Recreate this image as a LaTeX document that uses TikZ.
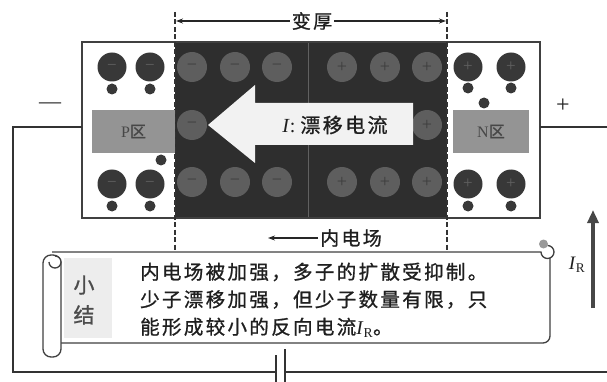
\documentclass[tikz,border=0pt]{standalone}
\usepackage{fontspec}
\setmainfont{Liberation Serif}
\newfontfamily\cjk[LetterSpace=12, FakeBold=1]{Noto Sans CJK SC}
\usetikzlibrary{arrows.meta,positioning}

\begin{document}
\begin{tikzpicture}[x=1pt, y=-1pt,
   wire/.style={draw=black!80, line width=2.2pt},
   bound/.style={draw=black!80, line width=1.4pt, dash pattern=on 5pt off 2.5pt},
   thinarrow/.style={draw=black!85, line width=1.1pt, -{Stealth[length=7pt,width=5pt]}},
   carrier/.style={circle, fill=black!78, minimum size=29pt, inner sep=0pt,
                   text=black!62, font=\fontsize{17}{17}\selectfont},
   dot/.style={circle, fill=black!78, minimum size=11pt, inner sep=0pt},
   ion/.style={circle, fill=black!63, minimum size=30pt, inner sep=0pt,
               text=black!76, font=\fontsize{18}{18}\selectfont},
   region/.style={fill=black!42, minimum width=#1, minimum height=43pt, inner sep=0pt,
                  text=black!72, font=\fontsize{16}{16}\selectfont},
   scroll/.style={draw=black!75, line width=1.3pt, fill=white},
   txt/.style={text=black!88, inner sep=2pt}]

\clip (0,0) rectangle (607,382);

% junction: depletion layer and its boundaries
\fill[black!82] (175,42) rectangle (447,218);
\draw[black!62, line width=0.8pt] (308,42) -- (308,218);
\draw[black!75, line width=1.4pt] (82,42) rectangle (540,218);
\draw[bound] (175,12) -- (175,252);
\draw[bound] (447,12) -- (447,252);
\coordinate (dl) at (176,21);
\coordinate (dr) at (446,21);

\node[txt, font=\cjk\fontsize{19}{19}\selectfont] (thick) at (312,21) {变厚};
\draw[thinarrow] (thick.west) -- (thick.west -| dl);
\draw[thinarrow] (thick.east) -- (thick.east -| dr);

% fixed ions
\foreach \x in {192,235,277} {
   \node[ion] (nt\x) at (\x,67) {−};
   \node[ion] (nb\x) at (\x,182) {−};
}
\foreach \x in {342,385,427} {
   \node[ion] (pt\x) at (\x,67) {+};
   \node[ion] (pb\x) at (\x,182) {+};
}
\node[ion] (nm) at (192,125) {−};
\node[ion] (pm) at (427,125) {+};

% drift current
\fill[black!5] (208,125) -- (255,85) -- (255,103) -- (413,103) -- (413,145)
   -- (255,145) -- (255,163) -- cycle;
\node[txt, font=\fontsize{20}{20}\selectfont] (drift) at (335,125) {\textit{I}: {\cjk 漂移电流}};

% P side
\node[region=83pt] (preg) at (133.5,131.5) {P{\cjk 区}};
\foreach \x in {112,150} {
   \node[carrier] (pct\x) at (\x,67) {−};
   \node[dot] (pdt\x) at (\x,89) {};
   \node[carrier] (pcb\x) at (\x,184) {−};
   \node[dot] (pdb\x) at (\x,206) {};
}
\node[dot] (pd) at (161,160) {};

% N side
\node[region=76pt] (nreg) at (491,131.5) {N{\cjk 区}};
\foreach \x in {468,511} {
   \node[carrier] (nct\x) at (\x,67) {+};
   \node[dot] (ndt\x) at (\x,88) {};
   \node[carrier] (ncb\x) at (\x,184) {+};
   \node[dot] (ndb\x) at (\x,206) {};
}
\node[dot] (nd) at (484,103) {};

% inner field
\node[txt, font=\cjk\fontsize{19}{19}\selectfont] (field) at (351,238) {内电场};
\draw[thinarrow] (field.west) -- +(-50,0);

% external circuit
\node[txt, font=\fontsize{22}{22}\selectfont] (minus) at (50,106) {—};
\node[txt, font=\fontsize{24}{24}\selectfont] (plus) at (563,106) {+};
\coordinate (pc) at (82,127);
\coordinate (nc) at (540,127);
\coordinate (lw) at (13,127);
\coordinate (rw) at (616,127);
\coordinate (bn) at (276,372);
\coordinate (bp) at (285,372);
\draw[wire] (pc) -- (lw) -- (lw |- bn) -- (bn);
\draw[wire] (nc) -- (rw) -- (rw |- bp) -- (bp);
\draw[wire] (276,355) -- (276,390);
\draw[wire] (285,349) -- (285,390);

\coordinate (ir0) at (593,308);
\coordinate (ir1) at (593,210);
\draw[black!72, line width=3.2pt, -{Triangle[length=13pt,width=11pt]}] (ir0) -- (ir1);
\node[txt, font=\fontsize{19}{19}\selectfont] (irl) at (577,265) {\textit{I}\textsubscript{R}};

% summary scroll
\draw[scroll, rounded corners=7pt] (52,252) -- (550,252) -- (550,343) -- (52,343);
\draw[scroll] (541,252) arc[start angle=180, end angle=-90, radius=6.5];
\fill[black!40] (543.5,244) circle[radius=4.5];
\draw[scroll, rounded corners=8pt] (43,255) rectangle (61,357);
\draw[scroll] (49,262) arc[start angle=180, end angle=-90, radius=6];
\fill[black!7] (64,258) rectangle (112,338);
\node[txt, align=center, text=black!70, font=\cjk\fontsize{21}{30}\selectfont] (sum0) at (84,300) {小\\结};
\node[txt, anchor=west, align=left, font=\cjk\fontsize{19.5}{27.5}\selectfont] (sum) at (138,300)
   {内电场被加强，多子的扩散受抑制。\\
    少子漂移加强，但少子数量有限，只\\
    能形成较小的反向电流{\rmfamily\textit{I}\textsubscript{R}}。};

\end{tikzpicture}
\end{document}
